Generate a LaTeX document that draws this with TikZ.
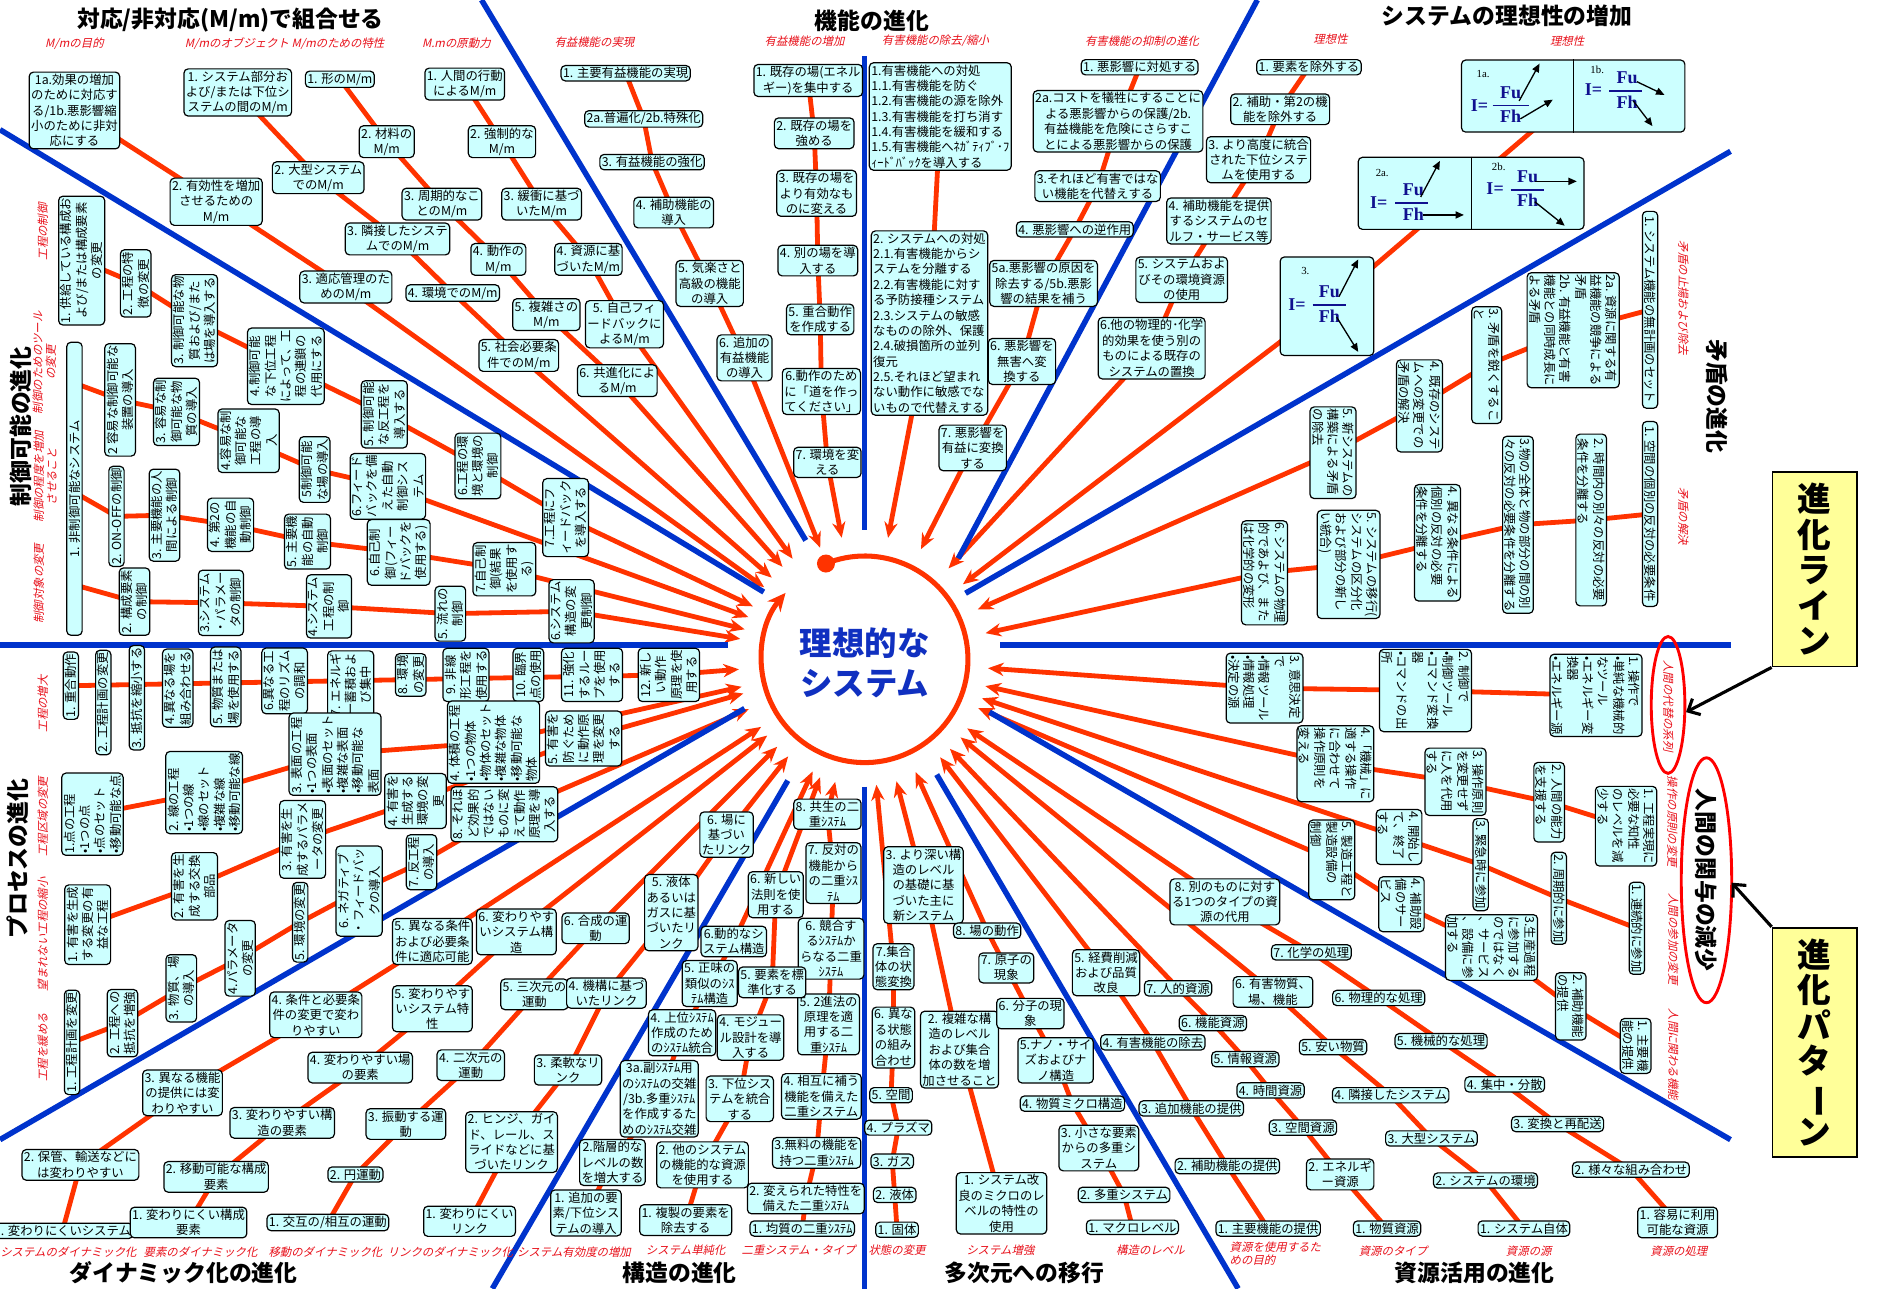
\documentclass[tikz,border=0pt]{standalone}
\usepackage{fontspec}
\usepackage{graphicx}
\setmainfont{Noto Sans CJK JP}
\newfontfamily\jpit{Noto Sans CJK JP}[FakeSlant=0.22]
\newfontfamily\tms{Liberation Serif}
\usetikzlibrary{arrows.meta,calc,backgrounds}
\definecolor{boxc}{HTML}{CCFFFF}
\definecolor{rayc}{HTML}{FF3300}
\definecolor{divc}{HTML}{0033CC}
\definecolor{subc}{HTML}{E8101A}
\definecolor{ctrc}{HTML}{1030C0}
\definecolor{fmlc}{HTML}{10108F}
\definecolor{yelc}{HTML}{FFFF99}
\begin{document}
\begin{tikzpicture}[x=1pt,y=-1pt,
 bx/.style={draw=black,line width=1pt,fill=boxc,rounded corners=3.5pt,inner sep=1.6pt,align=center,font=\fontsize{10.3}{12.8}\selectfont},
 rr/.style={bx,rotate=90},
 rl/.style={bx,rotate=-90},
 ray/.style={draw=rayc,line width=4pt,line join=round,-{Stealth[length=13pt,width=11pt]}},
 div/.style={draw=divc,line width=4.6pt},
 subt/.style={text=subc,inner sep=0pt,align=center,font=\jpit\fontsize{9.5}{11}\selectfont},
 ttl/.style={inner sep=0pt,font=\bfseries\fontsize{19}{21}\selectfont},
 yel/.style={draw=black,line width=1.5pt,fill=yelc,align=center,inner sep=2pt,font=\bfseries\fontsize{28}{29.5}\selectfont},
 fml/.style={text=fmlc,inner sep=0pt,font=\tms\bfseries\fontsize{15}{15}\selectfont},
 flab/.style={inner sep=0pt,font=\tms\fontsize{9}{9}\selectfont},
 fbar/.style={draw=fmlc,line width=1.3pt},
 farr/.style={draw=black,line width=1.1pt,-{Triangle[length=7pt,width=6pt]}},
 ellc/.style={draw=red,line width=2.4pt},
 barr/.style={draw=black,line width=2.6pt,-{Straight Barb[length=8pt,width=15pt]}},
 ringst/.style={draw=rayc,line width=4.2pt,-{Stealth[length=15pt,width=14pt]}}
]
\useasboundingbox (0,0) rectangle (1568,1073);
\coordinate (C) at (720,549);
% ---------- titles
\node[ttl] (t1) at (192,17) {対応/非対応(M/m)で組合せる};
\node[ttl] (t2) at (726,17) {機能の進化};
\node[ttl] (t3) at (1255,13) {システムの理想性の増加};
\node[ttl,rotate=-90] (t4) at (1430,330) {矛盾の進化};
\node[ttl,rotate=-90] (t5) at (1421,733) {人間の関与の減少};
\node[ttl] (t6) at (1228,1060) {資源活用の進化};
\node[ttl] (t7) at (853,1060) {多次元への移行};
\node[ttl] (t8) at (566,1060) {構造の進化};
\node[ttl] (t9) at (153,1060) {ダイナミック化の進化};
\node[ttl,rotate=90] (t10) at (15,715) {プロセスの進化};
\node[ttl,rotate=90] (t11) at (17,355) {制御可能の進化};
% ---------- subtitles
\node[subt] (s1) at (62,36) {M/mの目的};
\node[subt] (s2) at (237,36) {M/mのオブジェクト M/mのための特性};
\node[subt] (s3) at (380,36) {M.mの原動力};
\node[subt] (s4) at (495,35) {有益機能の実現};
\node[subt] (s5) at (670,34) {有益機能の増加};
\node[subt] (s6) at (779,34) {有害機能の除去/縮小};
\node[subt] (s7) at (951,34) {有害機能の抑制の進化};
\node[subt] (s8) at (1108,33) {理想性};
\node[subt] (s9) at (1305,34) {理想性};
\node[subt,rotate=-90] (s10) at (1402,248) {矛盾の止揚および除去};
\node[subt,rotate=-90] (s11) at (1402,430) {矛盾の解決};
\node[subt,rotate=-90] (s12) at (1390,588) {人間の代替の系列};
\node[subt,rotate=-90] (s13) at (1393,684) {操作の原則の変更};
\node[subt,rotate=-90] (s14) at (1394,782) {人間の参加の変更};
\node[subt,rotate=-90] (s15) at (1394,878) {人間に関わる機能};
\node[subt,align=left] (s16) at (1062,1044) {資源を使用するた\\めの目的};
\node[subt] (s17) at (1160,1042) {資源のタイプ};
\node[subt] (s18) at (1273,1042) {資源の源};
\node[subt] (s19) at (1398,1042) {資源の処理};
\node[subt] (s20) at (958,1041) {構造のレベル};
\node[subt] (s21) at (833,1041) {システム増強};
\node[subt] (s22) at (747,1041) {状態の変更};
\node[subt] (s23) at (665,1041) {二重システム・タイプ};
\node[subt] (s24) at (571,1041) {システム単純化};
\node[subt] (s25) at (478,1043) {システム有効度の増加};
\node[subt] (s26) at (375,1043) {リンクのダイナミック化};
\node[subt] (s27) at (271,1043) {移動のダイナミック化};
\node[subt] (s28) at (167,1043) {要素のダイナミック化};
\node[subt] (s29) at (57,1043) {システムのダイナミック化};
\node[subt,rotate=90] (s30) at (36,872) {工程を緩める};
\node[subt,rotate=90] (s31) at (36,778) {望まれない工程の縮小};
\node[subt,rotate=90] (s32) at (36,680) {工程区域の変更};
\node[subt,rotate=90] (s33) at (36,586) {工程の増大};
\node[subt,rotate=90] (s34) at (33,486) {制御対象の変更};
\node[subt,rotate=90] (s35) at (38,397) {制御の程度を増加\\させること};
\node[subt,rotate=90] (s36) at (37,302) {制御のためのツール\\の変更};
\node[subt,rotate=90] (s37) at (36,193) {工程の制御};
% ---------- top-left
\node[bx] (A1) at (62,92) {1a.効果の増加\\のために対応す\\る/1b.悪影響縮\\小のために非対\\応にする};
\node[bx] (A2) at (180,168) {2. 有効性を増加\\させるための\\M/m};
\node[bx] (A3) at (288,239) {3. 適応管理のた\\めのM/m};
\node[bx] (B1) at (198,77) {1. システム部分お\\よび/または下位シ\\ステムの間のM/m};
\node[bx] (B2) at (265,148) {2. 大型システム\\でのM/m};
\node[bx] (B3) at (331,199) {3. 隣接したシステ\\ムでのM/m};
\node[bx] (B4) at (377,244) {4. 環境でのM/m};
\node[bx] (B5) at (432,296) {5. 社会必要条\\件でのM/m};
\node[bx] (C1) at (283,66) {1. 形のM/m};
\node[bx] (C2) at (322,118) {2. 材料の\\M/m};
\node[bx] (C3) at (368,170) {3. 周期的なこ\\とのM/m};
\node[bx] (C4) at (415,216) {4. 動作の\\M/m};
\node[bx] (C5) at (455,262) {5. 複雑さの\\M/m};
\node[bx] (C6) at (514,317) {6. 共進化によ\\るM/m};
\node[bx] (D1) at (387,70) {1. 人間の行動\\によるM/m};
\node[bx] (D2) at (418,118) {2. 強制的な\\M/m};
\node[bx] (D3) at (451,170) {3. 緩衝に基づ\\いたM/m};
\node[bx] (D4) at (490,216) {4. 資源に基\\づいたM/m};
\node[bx] (D5) at (520,270) {5. 自己フィ\\ードバックに\\よるM/m};
% ---------- top
\node[bx] (E1) at (521,61) {1. 主要有益機能の実現};
\node[bx] (E2) at (536,99) {2a.普遍化/2b.特殊化};
\node[bx] (E3) at (543,135) {3. 有益機能の強化};
\node[bx] (E4) at (561,177) {4. 補助機能の\\導入};
\node[bx] (E5) at (591,236) {5. 気楽さと\\高級の機能\\の導入};
\node[bx] (E6) at (620,298) {6. 追加の\\有益機能\\の導入};
\node[bx] (F1) at (673,67) {1. 既存の場(エネル\\ギー)を集中する};
\node[bx] (F2) at (678,111) {2. 既存の場を\\強める};
\node[bx] (F3) at (680,161) {3. 既存の場を\\より有効なも\\のに変える};
\node[bx] (F4) at (681,217) {4. 別の場を導\\入する};
\node[bx] (F5) at (683,266) {5. 重合動作\\を作成する};
\node[bx] (F6) at (684,326) {6.動作のため\\に「道を作っ\\てください」};
\node[bx] (F7) at (689,385) {7. 環境を変\\える};
\node[bx,align=left] (G1) at (783,97) {1.有害機能への対処\\1.1.有害機能を防ぐ\\1.2.有害機能の源を除外\\1.3.有害機能を打ち消す\\1.4.有害機能を緩和する\\1.5.有害機能へﾈｶﾞﾃｨﾌﾞ･ﾌ\\ｨｰﾄﾞﾊﾞｯｸを導入する};
\node[bx,align=left] (G2) at (774,269) {2. システムへの対処\\2.1.有害機能からシ\\ステムを分離する\\2.2.有害機能に対す\\る予防接種システム\\2.3.システムの敏感\\なものの除外、保護\\2.4.破損箇所の並列\\復元\\2.5.それほど望まれ\\ない動作に敏感でな\\いもので代替えする};
\node[bx] (H1) at (949,56) {1. 悪影響に対処する};
\node[bx] (H2) at (931,101) {2a.コストを犠牲にすることに\\よる悪影響からの保護/2b.\\有益機能を危険にさらすこ\\とによる悪影響からの保護};
\node[bx] (H3) at (914,155) {3.それほど有害ではな\\い機能を代替えする};
\node[bx] (H4) at (895,191) {4. 悪影響への逆作用};
\node[bx] (H5) at (869,236) {5a.悪影響の原因を\\除去する/5b.悪影\\響の結果を補う};
\node[bx] (H6) at (851,301) {6. 悪影響を\\無害へ変\\換する};
\node[bx] (H7) at (810,373) {7. 悪影響を\\有益に変換\\する};
% ---------- ideality
\node[bx] (I1) at (1090,56) {1. 要素を除外する};
\node[bx] (I2) at (1066,91) {2. 補助・第2の機\\能を除外する};
\node[bx] (I3) at (1048,133) {3. より高度に統合\\された下位システ\\ムを使用する};
\node[bx] (I4) at (1015,184) {4. 補助機能を提供\\するシステムのセ\\ルフ・サービス等};
\node[bx] (I5) at (984,233) {5. システムおよ\\びその環境資源\\の使用};
\node[bx] (I6) at (959,290) {6.他の物理的･化学\\的効果を使う別の\\ものによる既存の\\システムの置換};
\node[bx,minimum width=186pt,minimum height=60pt] (J1) at (1310,80) {};
\node[bx,minimum width=188pt,minimum height=60pt] (J2) at (1225,161) {};
\node[bx,minimum width=78pt,minimum height=82pt] (J3) at (1105,255) {};
\draw[line width=1pt] (J1.north) -- (J1.south);
\draw[line width=1pt] (J2.north) -- (J2.south);
% 1a
\node[flab] (f1a) at (1235,62) {1a.};
\node[fml] (f1aI) at (1232,88) {I=};
\node[fml] (f1aU) at (1258,77) {Fu};
\node[fml] (f1aH) at (1258,97) {Fh};
\draw[fbar] (1243,88) -- (1273,88);
\draw[farr] (1265,84) -- (1282,53);
\draw[farr] (1266,99) -- (1293,83);
% 1b
\node[flab] (f1b) at (1330,58) {1b.};
\node[fml] (f1bI) at (1327,75) {I=};
\node[fml] (f1bU) at (1355,65) {Fu};
\node[fml] (f1bH) at (1355,85) {Fh};
\draw[fbar] (1340,76) -- (1367,76);
\draw[farr] (1363,68) -- (1386,79);
\draw[farr] (1360,84) -- (1376,105);
% 2a
\node[flab] (f2a) at (1151,144) {2a.};
\node[fml] (f2aI) at (1148,169) {I=};
\node[fml] (f2aU) at (1177,158) {Fu};
\node[fml] (f2aH) at (1177,178) {Fh};
\draw[fbar] (1162,169) -- (1189,169);
\draw[farr] (1183,164) -- (1199,134);
\draw[farr] (1185,179) -- (1219,179);
% 2b
\node[flab] (f2b) at (1248,139) {2b.};
\node[fml] (f2bI) at (1245,157) {I=};
\node[fml] (f2bU) at (1272,147) {Fu};
\node[fml] (f2bH) at (1272,167) {Fh};
\draw[fbar] (1258,158) -- (1286,158);
\draw[farr] (1278,151) -- (1313,151);
\draw[farr] (1278,168) -- (1303,188);
% 3
\node[flab] (f3) at (1087,226) {3.};
\node[fml] (f3I) at (1080,254) {I=};
\node[fml] (f3U) at (1107,243) {Fu};
\node[fml] (f3H) at (1107,263) {Fh};
\draw[fbar] (1093,254) -- (1121,254);
\draw[farr] (1115,247) -- (1131,216);
\draw[farr] (1113,264) -- (1131,293);
% ---------- contradiction
\node[rl,align=left,minimum width=164pt] (K1) at (1374,258) {1. システム機能の無計画のセット};
\node[rl,align=left] (K2) at (1310,275) {2a. 資源に関する有\\益機能の競争による\\矛盾\\2b. 有益機能と有害\\機能との同時成長に\\よる矛盾};
\node[rl,align=left] (K3) at (1238,304) {3. 矛盾を鋭くするこ\\と};
\node[rl,align=left] (K4) at (1182,338) {4. 既存のシステ\\ムへの変更での\\矛盾の解決};
\node[rl,align=left] (K5) at (1110,377) {5. 新システムの\\構築による矛盾\\の除去};
\node[rl,align=left,minimum width=154pt] (L1) at (1374,428) {1. 空間の個別の反対の必要条件};
\node[rl,align=left,minimum width=143pt] (L2) at (1325,433) {2. 時間内の別々の反対の必要\\条件を分離する};
\node[rl,align=left,minimum width=144pt] (L3) at (1264,437) {3.物の全体と物の部分の間の別\\々の反対の必要条件を分離する};
\node[rl,align=left] (L4) at (1197,452) {4. 異なる条件による\\個別の反対の必要\\条件を分離する};
\node[rl,align=left] (L5) at (1123,470) {5. システムの移行(\\システムの区分化\\および部分の新し\\い統合)};
\node[rl,align=left] (L6) at (1053,477) {6. システムの物理\\的であよび、また\\は化学的の変形};
% ---------- human involvement
\node[rl,align=left] (M1) at (1329,579) {1. 操作で\\•単純な機械的\\なツール\\•エネルギー変\\換器\\•エネルギー源};
\node[rl,align=left] (M2) at (1187,575) {2. 制御で\\•制御ツール\\•コマンド変換\\器\\•コマンドの出\\所};
\node[rl,align=left] (M3) at (1053,573) {3. 意思決定\\で\\•情報ツール\\•情報処理\\•決定の源};
\node[rl,align=left] (N1) at (1354,688) {1. 工程実現に\\必要な知性\\のレベルを減\\少する};
\node[rl,align=left] (N2) at (1290,668) {2. 人間の能力\\を支援する};
\node[rl,align=left] (N3) at (1212,651) {3. 操作原則\\を変更せず\\に人を代用\\する};
\node[rl,align=left] (N4) at (1112,636) {4.「機械」に\\適する操作\\に合わせて\\操作原則を\\変える};
\node[rl] (O1) at (1363,773) {1. 連続的に参加};
\node[rl] (O2) at (1298,748) {2. 周期的に参加};
\node[rl] (O3) at (1233,720) {3. 緊急時に参加};
\node[rl,align=left] (O4) at (1165,697) {4. 開始し\\て、終了\\する};
\node[rl,align=left] (O5) at (1109,716) {5. 製造工程と\\製造設備の\\制御};
\node[rl,align=left] (P1) at (1362,871) {1. 主要機\\能の提供};
\node[rl,align=left] (P2) at (1308,838) {2. 補助機能\\の提供};
\node[rl,align=left] (P3) at (1242,789) {3.生産過程\\に参加する\\のではなく\\、サービス\\、設備に参\\加する};
\node[rl,align=left] (P4) at (1167,753) {4. 補助設\\備のサー\\ビス};
% ---------- resources
\node[bx] (Q1) at (1056,1023) {1. 主要機能の提供};
\node[bx] (Q2) at (1022,971) {2. 補助機能の提供};
\node[bx] (Q3) at (992,923) {3. 追加機能の提供};
\node[bx] (Q4) at (960,868) {4. 有害機能の除去};
\node[bx] (Q5) at (921,810) {5. 経費削減\\および品質\\改良};
\node[bx] (R1) at (1155,1023) {1. 物質資源};
\node[bx] (R2) at (1116,978) {2. エネルギ\\ー資源};
\node[bx] (R3) at (1085,939) {3. 空間資源};
\node[bx] (R4) at (1058,908) {4. 時間資源};
\node[bx] (R5) at (1037,882) {5. 情報資源};
\node[bx] (R6) at (1010,852) {6. 機能資源};
\node[bx] (R7) at (981,823) {7. 人的資源};
\node[bx] (R8) at (1020,751) {8. 別のものに対す\\る1つのタイプの資\\源の代用};
\node[bx] (S1) at (1269,1023) {1. システム自体};
\node[bx] (S2) at (1237,983) {2. システムの環境};
\node[bx] (S3) at (1192,948) {3. 大型システム};
\node[bx] (S4) at (1158,912) {4. 隣接したシステム};
\node[bx] (S5) at (1110,872) {5. 安い物質};
\node[bx] (S6) at (1060,826) {6. 有害物質、\\場、機能};
\node[bx] (T1) at (1397,1018) {1. 容易に利用\\可能な資源};
\node[bx] (T2) at (1358,974) {2. 様々な組み合わせ};
\node[bx] (T3) at (1297,936) {3. 変換と再配送};
\node[bx] (T4) at (1253,903) {4. 集中・分散};
\node[bx] (T5) at (1200,867) {5. 機械的な処理};
\node[bx] (T6) at (1148,831) {6. 物理的な処理};
\node[bx] (T7) at (1092,793) {7. 化学の処理};
% ---------- multi-dimension
\node[bx] (U1) at (747,1024) {1. 固体};
\node[bx] (U2) at (745,995) {2. 液体};
\node[bx] (U3) at (743,967) {3. ガス};
\node[bx] (U4) at (748,939) {4. プラズマ};
\node[bx] (U5) at (742,912) {5. 空間};
\node[bx] (U6) at (744,864) {6. 異な\\る状態\\の組み\\合わせ};
\node[bx] (U7) at (744,805) {7.集合\\体の状\\態変換};
\node[bx] (V1) at (834,1002) {1. システム改\\良のミクロのレ\\ベルの特性の\\使用};
\node[bx] (V2) at (799,874) {2. 複雑な構\\造のレベル\\および集合\\体の数を増\\加させること};
\node[bx] (V3) at (769,737) {3. より深い構\\造のレベル\\の基礎に基\\づいた主に\\新システム};
\node[bx] (W1) at (943,1022) {1. マクロレベル};
\node[bx] (W2) at (936,995) {2. 多重システム};
\node[bx] (W3) at (915,956) {3. 小さな要素\\からの多重シ\\ステム};
\node[bx] (W4) at (893,919) {4. 物質ミクロ構造};
\node[bx] (W5) at (879,883) {5.ナノ・サイ\\ズおよびナ\\ノ構造};
\node[bx] (W6) at (858,844) {6. 分子の現\\象};
\node[bx] (W7) at (838,806) {7. 原子の\\現象};
\node[bx] (W8) at (822,775) {8. 場の動作};
% ---------- structure
\node[bx] (X1) at (668,1023) {1. 均質の二重ｼｽﾃﾑ};
\node[bx] (X2) at (671,998) {2. 変えられた特性を\\備えた二重ｼｽﾃﾑ};
\node[bx] (X3) at (680,960) {3.無料の機能を\\持つ二重ｼｽﾃﾑ};
\node[bx] (X4) at (684,913) {4. 相互に補う\\機能を備えた\\二重システム};
\node[bx] (X5) at (690,853) {5. 2進法の\\原理を適\\用する二\\重ｼｽﾃﾑ};
\node[bx] (X6) at (692,790) {6. 競合す\\るｼｽﾃﾑか\\らなる二重\\ｼｽﾃﾑ};
\node[bx] (X7) at (694,727) {7. 反対の\\機能から\\の二重ｼｽ\\ﾃﾑ};
\node[bx] (X8) at (689,678) {8. 共生の二\\重ｼｽﾃﾑ};
\node[bx] (Y1) at (571,1016) {1. 複製の要素を\\除去する};
\node[bx] (Y2) at (585,970) {2. 他のシステム\\の機能的な資源\\を使用する};
\node[bx] (Y3) at (616,915) {3. 下位シス\\テムを統合\\する};
\node[bx] (Y4) at (625,864) {4. モジュー\\ル設計を導\\入する};
\node[bx] (Y5) at (643,818) {5. 要素を標\\準化する};
\node[bx] (Y6) at (646,745) {6. 新しい\\法則を使\\用する};
\node[bx] (Z1) at (488,1010) {1. 追加の要\\素/下位シス\\テムの導入};
\node[bx] (Z2) at (510,968) {2.階層的な\\レベルの数\\を増大する};
\node[bx] (Z3) at (549,915) {3a.副ｼｽﾃﾑ用\\のｼｽﾃﾑの交雑\\/3b.多重ｼｽﾃﾑ\\を作成するた\\めのｼｽﾃﾑ交雑};
\node[bx] (Z4) at (568,860) {4. 上位ｼｽﾃﾑ\\作成のため\\のｼｽﾃﾑ統合};
\node[bx] (Z5) at (591,819) {5. 正味の\\類似のｼｽ\\ﾃﾑ構造};
\node[bx] (Z6) at (611,784) {6.動的なシ\\ステム構造};
% ---------- dynamics
\node[bx] (AA1) at (52,1025) {1. 変わりにくいシステム};
\node[bx] (AA2) at (67,970) {2. 保管、輸送などに\\は変わりやすい};
\node[bx] (AA3) at (152,910) {3. 異なる機能\\の提供には変\\わりやすい};
\node[bx] (AA4) at (263,845) {4. 条件と必要条\\件の変更で変わ\\りやすい};
\node[bx] (AA5) at (360,784) {5. 異なる条件\\および必要条\\件に適応可能};
\node[bx] (AB1) at (157,1018) {1. 変わりにくい構成\\要素};
\node[bx] (AB2) at (180,980) {2. 移動可能な構成\\要素};
\node[bx] (AB3) at (235,935) {3. 変わりやすい構\\造の要素};
\node[bx] (AB4) at (300,889) {4. 変わりやすい場\\の要素};
\node[bx] (AB5) at (360,840) {5. 変わりやす\\いシステム特\\性};
\node[bx] (AB6) at (430,776) {6. 変わりやす\\いシステム構\\造};
\node[bx] (AC1) at (273,1018) {1. 交互の/相互の運動};
\node[bx] (AC2) at (296,978) {2. 円運動};
\node[bx] (AC3) at (338,936) {3. 振動する運\\動};
\node[bx] (AC4) at (392,887) {4. 二次元の\\運動};
\node[bx] (AC5) at (445,828) {5. 三次元の\\運動};
\node[bx] (AC6) at (496,773) {6. 合成の運\\動};
\node[bx] (AD1) at (391,1017) {1. 変わりにくい\\リンク};
\node[bx] (AD2) at (426,951) {2. ヒンジ、ガイ\\ド、レール、ス\\ライドなどに基\\づいたリンク};
\node[bx] (AD3) at (473,891) {3. 柔軟なリ\\ンク};
\node[bx] (AD4) at (505,827) {4. 機構に基づ\\いたリンク};
\node[bx] (AD5) at (559,760) {5. 液体\\あるいは\\ガスに基\\づいたリ\\ンク};
\node[bx] (AD6) at (605,695) {6. 場に\\基づい\\たリンク};
% ---------- process
\node[rr] (BA1) at (59,571) {1. 重合動作};
\node[rr] (BA2) at (86,585) {2. 工程計画の変更};
\node[rr] (BA3) at (114,581) {3. 抵抗を縮小する};
\node[rr] (BA4) at (148,573) {4.異なる場を\\組み合わせる};
\node[rr] (BA5) at (188,572) {5. 物質または\\場を使用する};
\node[rr] (BA6) at (237,567) {6.異なる工\\程のリズム\\の調和};
\node[rr] (BA7) at (292,570) {7. エネルギ\\ー蓄積およ\\び集中};
\node[rr] (BA8) at (342,562) {8. 環境\\の変更};
\node[rr] (BA9) at (388,562) {9. 非線\\形工程を\\使用する};
\node[rr] (BA10) at (440,562) {10. 臨界\\点の使用};
\node[rr] (BA11) at (493,562) {11. 強化\\するルー\\プを使用\\する};
\node[rr] (BA12) at (557,562) {12. 新し\\い動作\\原理を使\\用する};
\node[rr,align=left] (BB1) at (77,678) {1.点の工程\\•1つの点\\•点のセット\\•移動可能な点};
\node[rr,align=left] (BB2) at (170,660) {2. 線の工程\\•1つの線\\•線のセット\\•複雑な線\\•移動可能な線};
\node[rr,align=left] (BB3) at (279,628) {3. 表面の工程\\•1つの表面\\•表面のセット\\•複雑な表面\\•移動可能な\\表面};
\node[rr,align=left] (BB4) at (411,618) {4. 体積の工程\\•1つの物体\\•物体のセット\\•複雑な物体\\•移動可能な\\物体};
\node[rr] (BC1) at (73,770) {1. 有害を生成\\する変更の有\\益な工程};
\node[rr] (BC2) at (162,738) {2. 有害を生\\成する交換\\部品};
\node[rr] (BC3) at (252,699) {3. 有害を生\\成するパラメ\\ータの変更};
\node[rr] (BC4) at (346,667) {4. 有害を\\生成する\\環境の変\\更};
\node[rr] (BC5) at (486,615) {5. 有害を\\防ぐため\\に動作原\\理を変更\\する};
\node[rr] (BD1) at (60,868) {1. 工程計画を変更};
\node[rr] (BD2) at (102,852) {2. 工程への\\抵抗を増強};
\node[rr] (BD3) at (151,823) {3. 物質、場\\の導入};
\node[rr] (BD4) at (200,798) {4.パラメータ\\の変更};
\node[rr] (BD5) at (250,768) {5. 環境の変更};
\node[rr] (BD6) at (299,742) {6. ネガティブ\\・フィードバッ\\クの導入};
\node[rr] (BD7) at (351,718) {7. 反工程\\の導入};
\node[rr] (BD8) at (420,678) {8. それほ\\ど効果的\\ではない\\ものに変\\えて動作\\原理を導\\入する};
% ---------- controllability
\node[rr] (CA1) at (68,217) {1. 供給している構成お\\よび/または構成要素\\の変更};
\node[rr] (CA2) at (113,236) {2. 工程の特\\徴の変更};
\node[rr] (CA3) at (162,267) {3. 制御可能な物\\質および/また\\は場を導入する};
\node[rr] (CA4) at (238,305) {4.制御可能\\な下位工程\\によって、工\\程の連鎖の\\代用にする};
\node[rr] (CA5) at (320,345) {5. 制御可能\\な反工程を\\導入する};
\node[rr] (CA6) at (398,388) {6.工程の環\\境と環境の\\制御};
\node[rr] (CA7) at (471,431) {7.工程にフ\\ィードバック\\を導入する};
\node[rr,minimum width=244pt] (CB1) at (62,407) {1. 非制御可能なシステム};
\node[rr] (CB2) at (100,333) {2 容易な制御可能な\\装置の導入};
\node[rr] (CB3) at (147,343) {3. 容易な制\\御可能な物\\質の導入};
\node[rr] (CB4) at (207,367) {4.容易な制\\御可能な\\工程の導\\入};
\node[rr] (CB5) at (262,391) {5制御可能\\な場の導入};
\node[rr] (CB6) at (323,405) {6.フィード\\バックを備\\えた自動\\制御シス\\テム};
\node[rr] (CC2) at (97,430) {2. ON-OFFの制御};
\node[rr] (CC3) at (137,429) {3. 主要機能の人\\間による制御};
\node[rr] (CC4) at (192,437) {4. 第2の\\機能の自\\動制御};
\node[rr] (CC5) at (256,451) {5. 主要機\\能の自動\\制御};
\node[rr] (CC6) at (332,460) {6.自己制\\御(フィー\\ドバックを\\使用する)};
\node[rr] (CC7) at (420,474) {7.自己制\\御(結果\\を使用す\\る)};
\node[rr] (CD2) at (112,501) {2. 構成要素\\の制御};
\node[rr] (CD3) at (184,502) {3.システム\\・パラメー\\タの制御};
\node[rr] (CD4) at (274,505) {4.システム\\工程の制\\御};
\node[rr] (CD5) at (375,511) {5. 流れの\\制御};
\node[rr] (CD6) at (476,509) {6.システム\\構造の変\\更制御};
\coordinate (cb0) at (62,319);
\coordinate (cc0) at (62,410);
\coordinate (cd0) at (62,487);
% ---------- centre
\node[text=ctrc,align=center,font=\bfseries\fontsize{27}{34}\selectfont] (ctr) at (720,552) {理想的な\\システム};
\fill[rayc] ($(C)+(-112:86)$) circle[radius=7.5];
\draw[ringst] ($(C)+(-112:86)$) arc[start angle=-112,end angle=220,radius=86];
% ---------- yellow boxes, ellipses
\node[yel,minimum width=70pt,minimum height=162pt] (yl1) at (1511,474) {進\\化\\ラ\\イ\\ン};
\node[yel,minimum width=70pt,minimum height=191pt] (yl2) at (1511,868) {進\\化\\パ\\タ\\\rotatebox[origin=c]{-90}{ー}\\ン};
\draw[ellc] (1389,587) ellipse[x radius=14,y radius=57];
\draw[ellc] (1421,733) ellipse[x radius=21,y radius=102];
\coordinate (e1) at (1404,593);
\coordinate (e2) at (1442,735);
\draw[barr] (yl1.south west) -- (e1);
\draw[barr] (yl2.north west) -- (e2);
% ---------- rays and dividers
\begin{pgfonlayer}{background}
\fill[white] (0,0) rectangle (1568,1073);
\draw[ray] (A1.center)--(A2.center)--(A3.center)--($(C)!103pt!(A3)$);
\draw[ray] (B1.center)--(B2.center)--(B3.center)--(B4.center)--(B5.center)--($(C)!103pt!(B5)$);
\draw[ray] (C1.center)--(C2.center)--(C3.center)--(C4.center)--(C5.center)--(C6.center)--($(C)!103pt!(C6)$);
\draw[ray] (D1.center)--(D2.center)--(D3.center)--(D4.center)--(D5.center)--($(C)!103pt!(D5)$);
\draw[ray] (E1.center)--(E2.center)--(E3.center)--(E4.center)--(E5.center)--(E6.center)--($(C)!100pt!(E6)$);
\draw[ray] (F1.center)--(F2.center)--(F3.center)--(F4.center)--(F5.center)--(F6.center)--(F7.center)--($(C)!103pt!(F7)$);
\draw[ray] (G1.center)--(G2.center)--($(C)!103pt!(G2)$);
\draw[ray] (H1.center)--(H2.center)--(H3.center)--(H4.center)--(H5.center)--(H6.center)--(H7.center)--($(C)!103pt!(H7)$);
\draw[ray] (I1.center)--(I2.center)--(I3.center)--(I4.center)--(I5.center)--(I6.center)--($(C)!103pt!(I6)$);
\draw[ray] (J1.center)--(J3.center)--($(C)!103pt!(J3)$);
\draw[ray] (K1.center)--(K2.center)--(K3.center)--(K4.center)--(K5.center)--($(C)!103pt!(K5)$);
\draw[ray] (L1.center)--(L2.center)--(L3.center)--(L4.center)--(L5.center)--(L6.center)--($(C)!103pt!(L6)$);
\draw[ray] (M1.center)--(M2.center)--(M3.center)--($(C)!103pt!(M3)$);
\draw[ray] (N1.center)--(N2.center)--(N3.center)--(N4.center)--($(C)!103pt!(N4)$);
\draw[ray] (O1.center)--(O2.center)--(O3.center)--(O4.center)--($(C)!103pt!(O4)$);
\draw[ray] (P1.center)--(P2.center)--(P3.center)--(P4.center)--(O5.center)--($(C)!103pt!(O5)$);
\draw[ray] (Q1.center)--(Q2.center)--(Q3.center)--(Q4.center)--(Q5.center)--($(C)!103pt!(Q5)$);
\draw[ray] (R1.center)--(R2.center)--(R3.center)--(R4.center)--(R5.center)--(R6.center)--(R7.center)--($(C)!103pt!(R7)$);
\draw[ray] (S1.center)--(S2.center)--(S3.center)--(S4.center)--(S5.center)--(S6.center)--($(C)!103pt!(S6)$);
\draw[ray] (T1.center)--(T2.center)--(T3.center)--(T4.center)--(T5.center)--(T6.center)--(T7.center)--(R8.center)--($(C)!103pt!(R8)$);
\draw[ray] (U1.center)--(U2.center)--(U3.center)--(U4.center)--(U5.center)--(U6.center)--(U7.center)--($(C)!105pt!(U7)$);
\draw[ray] (V1.center)--(V2.center)--(V3.center)--($(C)!105pt!(V3)$);
\draw[ray] (W1.center)--(W2.center)--(W3.center)--(W4.center)--(W5.center)--(W6.center)--(W7.center)--(W8.center)--($(C)!103pt!(W8)$);
\draw[ray] (X1.center)--(X2.center)--(X3.center)--(X4.center)--(X5.center)--(X6.center)--(X7.center)--(X8.center)--($(C)!105pt!(X8)$);
\draw[ray] (Y1.center)--(Y2.center)--(Y3.center)--(Y4.center)--(Y5.center)--(Y6.center)--($(C)!105pt!(Y6)$);
\draw[ray] (Z1.center)--(Z2.center)--(Z3.center)--(Z4.center)--(Z5.center)--(Z6.center)--($(C)!103pt!(Z6)$);
\draw[ray] (AA1.center)--(AA2.center)--(AA3.center)--(AA4.center)--(AA5.center)--($(C)!103pt!(AA5)$);
\draw[ray] (AB1.center)--(AB2.center)--(AB3.center)--(AB4.center)--(AB5.center)--(AB6.center)--($(C)!103pt!(AB6)$);
\draw[ray] (AC1.center)--(AC2.center)--(AC3.center)--(AC4.center)--(AC5.center)--(AC6.center)--($(C)!103pt!(AC6)$);
\draw[ray] (AD1.center)--(AD2.center)--(AD3.center)--(AD4.center)--(AD5.center)--(AD6.center)--($(C)!103pt!(AD6)$);
\draw[ray] (BA1.center)--(BA12.center)--($(C)!105pt!(BA12)$);
\draw[ray] (BB1.center)--(BB2.center)--(BB3.center)--(BB4.center)--($(C)!105pt!(BB4)$);
\draw[ray] (BC1.center)--(BC2.center)--(BC3.center)--(BC4.center)--(BC5.center)--($(C)!105pt!(BC5)$);
\draw[ray] (BD1.center)--(BD2.center)--(BD3.center)--(BD4.center)--(BD5.center)--(BD6.center)--(BD7.center)--(BD8.center)--($(C)!105pt!(BD8)$);
\draw[ray] (CA1.center)--(CA2.center)--(CA3.center)--(CA4.center)--(CA5.center)--(CA6.center)--(CA7.center)--($(C)!103pt!(CA7)$);
\draw[ray] (cb0)--(CB2.center)--(CB3.center)--(CB4.center)--(CB5.center)--(CB6.center)--($(C)!103pt!(CB6)$);
\draw[ray] (cc0)--(CC2.center)--(CC3.center)--(CC4.center)--(CC5.center)--(CC6.center)--(CC7.center)--($(C)!103pt!(CC7)$);
\draw[ray] (cd0)--(CD2.center)--(CD3.center)--(CD4.center)--(CD5.center)--(CD6.center)--($(C)!105pt!(CD6)$);
% dividers
\draw[div] (720,47) -- (720,441);
\draw[div] (1047,0) -- (798,465);
\draw[div] (1441,126) -- (804,494);
\draw[div] (833,537) -- (1441,537);
\draw[div] (824,593) -- (1441,949);
\draw[div] (780,645) -- (1031,1073);
\draw[div] (720,655) -- (720,1073);
\draw[div] (656,650) -- (410,1073);
\draw[div] (620,590) -- (0,949);
\draw[div] (0,537) -- (606,537);
\draw[div] (636,493) -- (0,108);
\draw[div] (671,450) -- (401,0);
\end{pgfonlayer}
\end{tikzpicture}
\end{document}
